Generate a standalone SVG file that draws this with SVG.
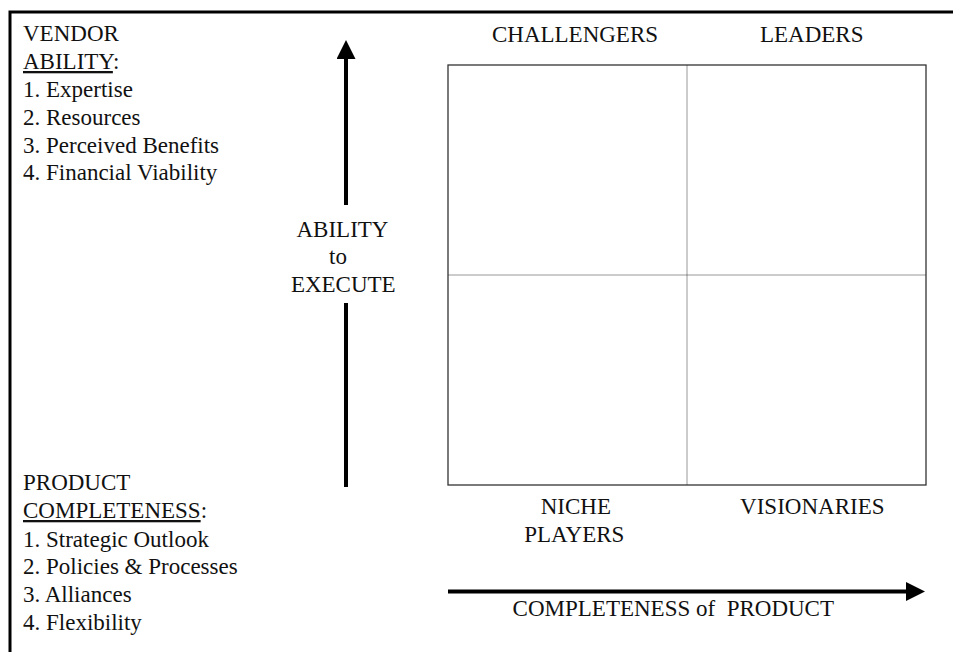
<svg xmlns="http://www.w3.org/2000/svg" width="953" height="652" viewBox="0 0 953 652">
<style>
text{font-family:'Liberation Serif', 'Times New Roman', Times, serif;font-size:23px;fill:#111}
.mid{text-anchor:middle}
.box{fill:#fff;stroke:#333;stroke-width:1.3}
.dot{stroke:#333;stroke-width:1;stroke-dasharray:1,1;fill:none}
.arrow{stroke:#000;stroke-width:4;fill:none}
.ul{stroke:#111;stroke-width:1.3}
</style>
<defs>
<marker id="head" viewBox="0 0 19 19" refX="0" refY="9.5" markerWidth="19" markerHeight="19" markerUnits="userSpaceOnUse" orient="auto">
<path d="M0,0 L19,9.5 L0,19 z" fill="#000"/>
</marker>
</defs>
<rect width="953" height="652" fill="#fff"/>
<g id="frame">
<path d="M10,652 L10,12 L953,12" fill="none" stroke="#000" stroke-width="3"/>
</g>
<g id="vendor-ability">
<text x="23" y="41">VENDOR</text>
<text x="23" y="69"><tspan text-decoration="underline">ABILITY</tspan>:</text>
<text x="23" y="97">1. Expertise</text>
<text x="23" y="124.5">2. Resources</text>
<text x="23" y="152.5">3. Perceived Benefits</text>
<text x="23" y="180">4. Financial Viability</text>
</g>
<g id="product-completeness">
<text x="23" y="490">PRODUCT</text>
<text x="23" y="518"><tspan text-decoration="underline">COMPLETENESS</tspan>:</text>
<text x="23" y="546.5">1. Strategic Outlook</text>
<text x="23" y="574">2. Policies &amp; Processes</text>
<text x="23" y="602">3. Alliances</text>
<text x="23" y="630">4. Flexibility</text>
</g>
<g id="ability-label">
<text class="mid" x="342.5" y="236.5">ABILITY</text>
<text class="mid" x="338" y="263.5">to</text>
<text class="mid" x="343.3" y="291.5">EXECUTE</text>
</g>
<g id="quadrant">
<rect class="box" x="448" y="65" width="478" height="420"/>
<line class="dot" x1="687" y1="65.5" x2="687" y2="484.5"/>
<line class="dot" x1="448.5" y1="275" x2="925.5" y2="275"/>
</g>
<g id="challengers"><text class="mid" x="575" y="41.5">CHALLENGERS</text></g>
<g id="leaders"><text class="mid" x="811.7" y="41.5">LEADERS</text></g>
<g id="niche-players">
<text class="mid" x="575.8" y="514">NICHE</text>
<text class="mid" x="574.3" y="541.5">PLAYERS</text>
</g>
<g id="visionaries"><text class="mid" x="812.3" y="514">VISIONARIES</text></g>
<g id="completeness-label"><text class="mid" x="673.3" y="615.5" xml:space="preserve">COMPLETENESS of  PRODUCT</text></g>
<g id="connectors">
<path class="arrow" d="M346,487 L346,303 M346,205 L346,59" marker-end="url(#head)"/>
<path class="arrow" d="M448,591.5 L906,591.5" marker-end="url(#head)"/>
</g>
</svg>
